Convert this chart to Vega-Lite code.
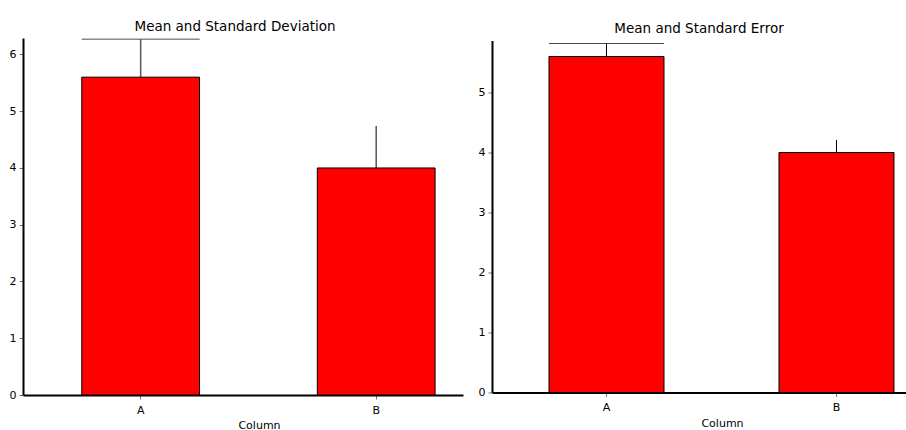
{
  "$schema": "https://vega.github.io/schema/vega-lite/v6.json",
  "padding": {"left": 9, "top": 19, "right": 0, "bottom": 0},
  "background": "white",
  "bounds": "flush",
  "center": true,
  "spacing": 29,
  "config": {
    "font": "DejaVu Sans",
    "view": {"stroke": null},
    "axis": {
      "grid": false,
      "domainColor": "black",
      "domainWidth": 2,
      "tickColor": "#777777",
      "labelColor": "black",
      "labelFont": "DejaVu Sans",
      "labelFontSize": 11,
      "titleFont": "DejaVu Sans",
      "titleFontSize": 11,
      "titleFontWeight": "normal",
      "titleColor": "black"
    },
    "title": {"font": "DejaVu Sans", "fontSize": 13.5, "fontWeight": "normal", "color": "black"}
  },
  "data": {
    "values": [
      {"group": "A", "mean": 5.6, "sd_top": 6.27, "se_top": 5.817},
      {"group": "B", "mean": 4.0, "sd_top": 4.74, "se_top": 4.21}
    ]
  },
  "hconcat": [
    {
      "width": 440,
      "height": 357,
      "title": {"text": "Mean and Standard Deviation", "offset": 5, "dx": -8},
      "encoding": {
        "x": {
          "field": "group",
          "type": "nominal",
          "scale": {"type": "band", "paddingInner": 0.5, "paddingOuter": 0.184, "align": 0.678},
          "axis": {"title": "Column", "labelAngle": 0, "tickSize": 4, "labelPadding": 5, "titleX": 236, "titlePadding": 4}
        }
      },
      "layer": [
        {
          "mark": {"type": "rule", "color": "#555555", "strokeWidth": 1.5},
          "encoding": {
            "y": {
              "field": "mean",
              "type": "quantitative",
              "scale": {"domain": [0, 6.29], "nice": false},
              "axis": {
                "title": null,
                "values": [0, 0.25, 0.5, 0.75, 1, 1.25, 1.5, 1.75, 2, 2.25, 2.5, 2.75, 3, 3.25, 3.5, 3.75, 4, 4.25, 4.5, 4.75, 5, 5.25, 5.5, 5.75, 6, 6.25],
                "labelExpr": "datum.value % 1 === 0 ? format(datum.value, 'd') : ''",
                "labelOverlap": false,
                "labelFlush": false,
                "labelPadding": 3,
                "tickSize": {"condition": {"test": "datum.value % 1 === 0", "value": 4}, "value": 2}
              }
            },
            "y2": {"field": "sd_top"}
          }
        },
        {
          "transform": [{"filter": "datum.group === 'A'"}],
          "mark": {"type": "tick", "orient": "horizontal", "size": 118, "thickness": 1.5, "color": "#555555"},
          "encoding": {"y": {"field": "sd_top", "type": "quantitative"}}
        },
        {
          "mark": {"type": "bar", "color": "#ff0000", "stroke": "black", "strokeWidth": 1},
          "encoding": {"y": {"field": "mean", "type": "quantitative"}}
        }
      ]
    },
    {
      "width": 414,
      "height": 352,
      "title": {"text": "Mean and Standard Error", "offset": 5},
      "encoding": {
        "x": {
          "field": "group",
          "type": "nominal",
          "scale": {"type": "band", "paddingInner": 0.5, "paddingOuter": 0.15, "align": 0.826},
          "axis": {"title": "Column", "labelAngle": 0, "tickSize": 4, "labelPadding": 5, "titleX": 230, "titlePadding": 5}
        }
      },
      "layer": [
        {
          "mark": {"type": "rule", "color": "black", "strokeWidth": 1},
          "encoding": {
            "y": {
              "field": "mean",
              "type": "quantitative",
              "scale": {"domain": [0, 5.867], "nice": false},
              "axis": {
                "title": null,
                "values": [0, 0.25, 0.5, 0.75, 1, 1.25, 1.5, 1.75, 2, 2.25, 2.5, 2.75, 3, 3.25, 3.5, 3.75, 4, 4.25, 4.5, 4.75, 5, 5.25, 5.5, 5.75],
                "labelExpr": "datum.value % 1 === 0 ? format(datum.value, 'd') : ''",
                "labelOverlap": false,
                "labelFlush": false,
                "labelPadding": 3,
                "tickSize": {"condition": {"test": "datum.value % 1 === 0", "value": 4}, "value": 2}
              }
            },
            "y2": {"field": "se_top"}
          }
        },
        {
          "transform": [{"filter": "datum.group === 'A'"}],
          "mark": {"type": "tick", "orient": "horizontal", "size": 115, "thickness": 1, "color": "black"},
          "encoding": {"y": {"field": "se_top", "type": "quantitative"}}
        },
        {
          "mark": {"type": "bar", "color": "#ff0000", "stroke": "black", "strokeWidth": 1},
          "encoding": {"y": {"field": "mean", "type": "quantitative"}}
        }
      ]
    }
  ]
}
